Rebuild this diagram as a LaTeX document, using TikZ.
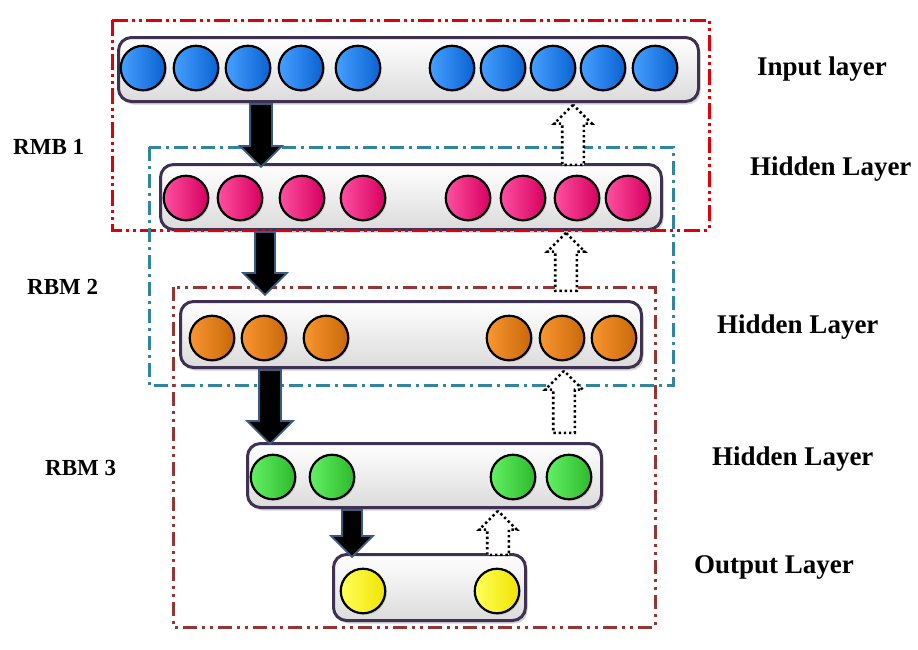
\documentclass[tikz,border=0pt]{standalone}
\usepackage{fontspec}
\setmainfont{Liberation Serif}
\usepackage{xcolor}
\usepackage{tikz}
\usetikzlibrary{shapes.arrows}
\usetikzlibrary{shadows}

\definecolor{boxedge}{HTML}{3F3151}
\definecolor{arrowedge}{HTML}{3B5A80}
\definecolor{rbmred}{HTML}{E0000A}
\definecolor{rbmteal}{HTML}{31859C}
\definecolor{rbmbrown}{HTML}{943634}

\begin{document}
\begin{tikzpicture}[x=1pt, y=-1pt,
		layerbox/.style={draw=boxedge, line width=3pt, rounded corners=13pt,
			top color=white, middle color=white, bottom color=black!14, inner sep=0pt,
			drop shadow={shadow xshift=2pt, shadow yshift=-3pt, opacity=.35}},
		neuron/.style={circle, draw=black, line width=2.2pt, minimum size=44.5pt, inner sep=0pt,
			drop shadow={shadow xshift=1.5pt, shadow yshift=-1.5pt, opacity=.3}},
		blue neuron/.style={neuron, left color={rgb,255:red,70;green,160;blue,255}, middle color={rgb,255:red,24;green,120;blue,230}, right color={rgb,255:red,10;green,98;blue,210}},
		pink neuron/.style={neuron, left color={rgb,255:red,255;green,80;blue,160}, middle color={rgb,255:red,236;green,4;blue,110}, right color={rgb,255:red,214;green,0;blue,96}},
		orange neuron/.style={neuron, left color={rgb,255:red,250;green,150;blue,50}, middle color={rgb,255:red,222;green,120;blue,16}, right color={rgb,255:red,200;green,104;blue,8}},
		green neuron/.style={neuron, left color={rgb,255:red,100;green,240;blue,100}, middle color={rgb,255:red,54;green,204;blue,54}, right color={rgb,255:red,44;green,186;blue,44}},
		yellow neuron/.style={neuron, left color={rgb,255:red,255;green,255;blue,90}, middle color=yellow, right color={rgb,255:red,240;green,228;blue,0}},
		fwdarrow/.style={single arrow, rotate=-90, anchor=tail, fill=black, draw=arrowedge,
			line width=1.8pt, inner xsep=0pt, minimum width=0pt},
		backarrow/.style={single arrow, rotate=90, anchor=tip, fill=white, draw=black,
			line width=2.6pt, dash pattern=on 2.4pt off 2.8pt, inner xsep=0pt, inner ysep=9.5pt,
			minimum width=0pt, single arrow head extend=8pt},
		rbmframe/.style={line width=3pt},
		layerlabel/.style={font=\fontsize{27}{30}\selectfont\bfseries, anchor=base west, inner sep=0pt},
		rbmlabel/.style={font=\fontsize{23}{26}\selectfont\bfseries, anchor=base west, inner sep=0pt}
	]
	\useasboundingbox (0,0) rectangle (918,649);

	\node[layerbox, minimum width=580pt, minimum height=64pt] (in) at (408.5,69.5) {};
	\node[layerbox, minimum width=501pt, minimum height=65pt] (hid1) at (411,197) {};
	\node[layerbox, minimum width=461pt, minimum height=66pt] (hid2) at (411,334.5) {};
	\node[layerbox, minimum width=354pt, minimum height=64pt] (hid3) at (424.5,475.5) {};
	\node[layerbox, minimum width=192pt, minimum height=66pt] (out) at (429.5,587.5) {};

	\foreach \x [count=\i] in {143,196,248,301,358,452,503,553,603,655}
		\node[blue neuron] (in-\i) at (\x,68) {};
	\foreach \x [count=\i] in {186,240,302,363,468,523,577,628}
		\node[pink neuron] (hid1-\i) at (\x,198) {};
	\foreach \x [count=\i] in {212,264,326,509,562,614}
		\node[orange neuron] (hid2-\i) at (\x,338) {};
	\foreach \x [count=\i] in {273,332,513,569}
		\node[green neuron] (hid3-\i) at (\x,477) {};
	\foreach \x [count=\i] in {363,497}
		\node[yellow neuron] (out-\i) at (\x,591) {};

	\draw[rbmframe, rbmred, dash pattern=on 16pt off 4pt on 3pt off 4pt on 3pt off 4pt] (112,20) rectangle (709,230);
	\draw[rbmframe, rbmteal, dash pattern=on 14pt off 5pt on 3pt off 5pt] (149,147) rectangle (673,385);
	\draw[rbmframe, rbmbrown, dash pattern=on 14pt off 5pt on 3pt off 5pt on 3pt off 5pt] (173,287) rectangle (655,627);

	\node[fwdarrow, minimum height=63pt, inner ysep=10pt, single arrow head extend=10pt] (fwd1) at ([xshift=144pt]in.south west) {};
	\node[fwdarrow, minimum height=63pt, inner ysep=9pt, single arrow head extend=12pt] (fwd2) at ([xshift=106pt]hid1.south west) {};
	\node[fwdarrow, minimum height=74pt, inner ysep=10pt, single arrow head extend=12pt] (fwd3) at ([xshift=91pt]hid2.south west) {};
	\node[fwdarrow, minimum height=47pt, inner ysep=9pt, single arrow head extend=11pt] (fwd4) at ([xshift=106pt]hid3.south west) {};

	\node[backarrow, minimum height=60pt] (back1) at ([xshift=456pt]in.south west) {};
	\node[backarrow, minimum height=58pt] (back2) at ([xshift=407pt]hid1.south west) {};
	\node[backarrow, minimum height=62pt] (back3) at ([xshift=385pt]hid2.south west) {};
	\node[backarrow, minimum height=44pt] (back4) at ([xshift=252pt]hid3.south west) {};

	\node[layerlabel] (inlabel) at (757,75) {Input layer};
	\node[layerlabel] (hid1label) at (750,175) {Hidden Layer};
	\node[layerlabel] (hid2label) at (717,333) {Hidden Layer};
	\node[layerlabel] (hid3label) at (712,465) {Hidden Layer};
	\node[layerlabel] (outlabel) at (694,573) {Output Layer};
	\node[rbmlabel] (rbm1) at (13,154) {RMB 1};
	\node[rbmlabel] (rbm2) at (27,294) {RBM 2};
	\node[rbmlabel] (rbm3) at (45,475) {RBM 3};
\end{tikzpicture}
\end{document}
